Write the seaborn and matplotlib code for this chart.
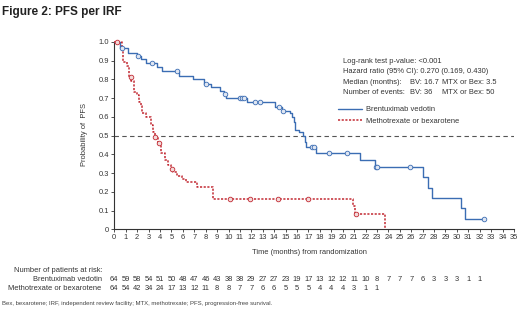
import numpy as np
import pandas as pd
import matplotlib
matplotlib.use("Agg")
import matplotlib.pyplot as plt
import matplotlib.transforms as mtransforms
from matplotlib.lines import Line2D
import seaborn as sns

sns.set_style("ticks")
plt.rcParams['font.family'] = ['Liberation Sans', 'DejaVu Sans']

# ---- Data ----
bv_time = [0, 0.5, 1.2, 2.0, 2.3, 2.75, 3.7, 4.2, 5.7, 6.9, 7.85, 8.5, 9.25, 9.6, 9.8,
           11.6, 14.1, 14.7, 15.4, 15.6, 15.7, 15.8, 16.2, 16.5, 16.7, 16.8, 17.65,
           21.5, 22.8, 27.0, 27.5, 27.8, 30.4, 30.7, 32.4]
bv_surv = [1.0, 0.97, 0.94, 0.925, 0.91, 0.89, 0.868, 0.845, 0.818, 0.804, 0.774, 0.758,
           0.74, 0.72, 0.70, 0.68, 0.655, 0.632, 0.62, 0.60, 0.575, 0.53, 0.518, 0.50,
           0.468, 0.44, 0.405, 0.37, 0.334, 0.278, 0.219, 0.169, 0.112, 0.055, 0.055]
bv_censor = [0.65, 2.05, 3.3, 5.5, 8.0, 9.65, 11.0, 11.2, 11.4, 12.3, 12.8, 14.4, 14.8,
             17.3, 17.5, 18.8, 20.4, 22.9, 23.0, 25.9, 32.4]

mtx_time = [0, 0.65, 0.75, 1.15, 1.25, 1.5, 1.75, 2.0, 2.2, 2.3, 2.45, 2.8, 3.25, 3.4,
            3.55, 3.85, 4.1, 4.4, 4.7, 5.0, 5.15, 5.45, 5.9, 6.3, 7.2, 8.6, 20.9, 21.1, 23.7]
mtx_surv = [1.0, 0.95, 0.895, 0.87, 0.815, 0.79, 0.735, 0.717, 0.68, 0.66, 0.62, 0.60,
            0.557, 0.52, 0.494, 0.459, 0.405, 0.37, 0.343, 0.32, 0.307, 0.286, 0.27,
            0.254, 0.227, 0.162, 0.124, 0.082, 0.0]
mtx_censor = [0.2, 1.45, 3.6, 3.9, 5.05, 10.1, 11.9, 14.35, 17.0, 21.2]

risk_bv = [64, 59, 58, 54, 51, 50, 48, 47, 46, 43, 38, 38, 29, 27, 27, 23, 19, 17, 13,
           12, 12, 11, 10, 8, 7, 7, 7, 6, 3, 3, 3, 1, 1]
risk_mtx = [64, 54, 42, 34, 24, 17, 13, 12, 11, 8, 8, 7, 7, 6, 6, 5, 5, 5, 4, 4, 4, 3, 1, 1]

arm_names = ["Brentuximab vedotin", "Methotrexate or bexarotene"]
x_ticks = list(range(0, 36))
y_ticks = [0, 0.1, 0.2, 0.3, 0.4, 0.5, 0.6, 0.7, 0.8, 0.9, 1.0]
y_ticklabels = ["0", "0.1", "0.2", "0.3", "0.4", "0.5", "0.6", "0.7", "0.8", "0.9", "1.0"]

BLUE = "#3b6db3"
RED = "#c22a33"

def step_value(times, surv, t):
    idx = np.searchsorted(np.asarray(times), t, side="right") - 1
    return np.asarray(surv)[idx]

W, H = 520, 315
fig = plt.figure(figsize=(W / 100, H / 100), dpi=100)
def fx(x): return x / W
def fy(y): return 1 - y / H

ax = fig.add_axes([fx(114.3), fy(229.3), fx(514) - fx(114.3), fy(42) - fy(229.3)])

curves = pd.concat([
    pd.DataFrame({"t": bv_time, "s": bv_surv, "arm": arm_names[0]}),
    pd.DataFrame({"t": mtx_time, "s": mtx_surv, "arm": arm_names[1]}),
])

sns.lineplot(data=curves[curves.arm == arm_names[0]], x="t", y="s", ax=ax,
             color=BLUE, lw=1.0, drawstyle="steps-post", estimator=None, sort=False,
             clip_on=False, zorder=3)
sns.lineplot(data=curves[curves.arm == arm_names[1]], x="t", y="s", ax=ax,
             color=RED, lw=1.1, drawstyle="steps-post", estimator=None, sort=False,
             linestyle=(0, (1.4, 1.0)), clip_on=False, zorder=4)

cens_bv = pd.DataFrame({"t": bv_censor, "s": [step_value(bv_time, bv_surv, t) for t in bv_censor]})
cens_mtx = pd.DataFrame({"t": mtx_censor, "s": [step_value(mtx_time, mtx_surv, t) for t in mtx_censor]})
sns.scatterplot(data=cens_bv, x="t", y="s", ax=ax, marker="o", s=11,
                facecolor="#dfe6f2", edgecolor=BLUE, linewidth=0.6, zorder=5, clip_on=False)
sns.scatterplot(data=cens_mtx, x="t", y="s", ax=ax, marker="o", s=11,
                facecolor="#f3dada", edgecolor=RED, linewidth=0.6, zorder=5, clip_on=False)

ax.axhline(0.5, color="#555555", lw=0.8, ls=(0, (4, 3)), zorder=1)

ax.set_xlim(0, 35)
ax.set_ylim(0, 1.0)
ax.set_xticks(x_ticks)
ax.set_xticklabels([str(v) for v in x_ticks])
ax.set_yticks(y_ticks)
ax.set_yticklabels(y_ticklabels)
ax.tick_params(axis="both", labelsize=5.4, length=2.2, width=0.6, pad=1.5, colors="#333333")
for sp in ["top", "right"]:
    ax.spines[sp].set_visible(False)
for sp in ["left", "bottom"]:
    ax.spines[sp].set_color("#333333")
    ax.spines[sp].set_linewidth(0.8)
ax.set_xlabel("")
ax.set_ylabel("")

fs = 5.4
fig.text(fx(84), fy(134), "Probability of  PFS", rotation=90, ha="center", va="center",
         fontsize=fs, color="#333333")
fig.text(fx(309), fy(253), "Time (months) from randomization", ha="center", va="center",
         fontsize=fs, color="#333333")

fig.text(fx(2), fy(12), "Figure 2: PFS per IRF", ha="left", va="center", fontsize=8.5,
         fontweight="bold", color="#222222")

# stats annotation
fig.text(fx(343), fy(61.3), "Log-rank test p-value: <0.001", fontsize=fs, va="center", color="#333333")
fig.text(fx(343), fy(71.7), "Hazard ratio (95% CI): 0.270 (0.169, 0.430)", fontsize=fs, va="center", color="#333333")
fig.text(fx(343), fy(82.3), "Median (months):", fontsize=fs, va="center", color="#333333")
fig.text(fx(410), fy(82.3), "BV: 16.7", fontsize=fs, va="center", color="#333333")
fig.text(fx(442), fy(82.3), "MTX or Bex: 3.5", fontsize=fs, va="center", color="#333333")
fig.text(fx(343), fy(92.7), "Number of events:", fontsize=fs, va="center", color="#333333")
fig.text(fx(410), fy(92.7), "BV: 36", fontsize=fs, va="center", color="#333333")
fig.text(fx(442), fy(92.7), "MTX or Bex: 50", fontsize=fs, va="center", color="#333333")

handles = [Line2D([], [], color=BLUE, lw=1.0),
           Line2D([], [], color=RED, lw=1.1, ls=(0, (1.4, 1.0)))]
fig.legend(handles, arm_names, loc="upper left", bbox_to_anchor=(fx(338), fy(106)),
           frameon=False, fontsize=fs, handlelength=3.2, handletextpad=0.6,
           labelspacing=0.55, borderaxespad=0, borderpad=0, labelcolor="#333333")

# risk table
fig.text(fx(14), fy(270.7), "Number of patients at risk:", fontsize=fs, va="center", color="#333333")
fig.text(fx(101.7), fy(279.3), arm_names[0], fontsize=fs, va="center", ha="right", color="#333333")
fig.text(fx(101.7), fy(288.7), arm_names[1], fontsize=fs, va="center", ha="right", color="#333333")
trans = mtransforms.blended_transform_factory(ax.transData, fig.transFigure)
for i, n in enumerate(risk_bv):
    ax.text(x_ticks[i], fy(279.3), str(n), transform=trans, ha="center", va="center",
            fontsize=fs, color="#333333", clip_on=False)
for i, n in enumerate(risk_mtx):
    ax.text(x_ticks[i], fy(288.7), str(n), transform=trans, ha="center", va="center",
            fontsize=fs, color="#333333", clip_on=False)

fig.text(fx(2), fy(304), "Bex, bexarotene; IRF, independent review facility; MTX, methotrexate; "
         "PFS, progression-free survival.", fontsize=4.3, va="center", color="#444444")

fig.savefig("out.png", dpi=100, facecolor="white")
